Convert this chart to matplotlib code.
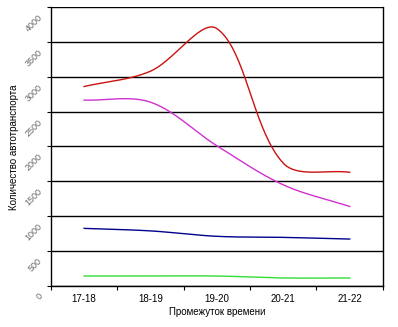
import numpy as np
import matplotlib
matplotlib.use("Agg")
import matplotlib.pyplot as plt
from matplotlib.transforms import ScaledTranslation

plt.rcParams["font.family"] = ["Liberation Sans", "DejaVu Sans"]

periods = ["17-18", "18-19", "19-20", "20-21", "21-22"]
red_vals = [2860, 3080, 3690, 1760, 1630]
magenta_vals = [2665, 2635, 2010, 1450, 1140]
blue_vals = [826, 790, 712, 697, 673]
green_vals = [143, 143, 143, 115, 115]
y_ticks = [0, 500, 1000, 1500, 2000, 2500, 3000, 3500, 4000]

# pixel scale of the plot area, used so the smoothing behaves like Excel's
PX_X = 66.4          # px per category
PX_Y = 279 / 4000    # px per unit


def smooth(xs, ys, n=40, k=1 / 3):
    # Bezier smoothing with control arms scaled by screen-space segment lengths
    P = np.column_stack([np.asarray(xs, float) * PX_X, np.asarray(ys, float) * PX_Y])
    m = len(P)
    L = np.linalg.norm(np.diff(P, axis=0), axis=1)
    ox, oy = [], []
    t = np.linspace(0, 1, n)[:, None]
    for i in range(m - 1):
        if i == 0:
            a = P[i] + k * (P[i + 1] - P[i])
        else:
            a = P[i] + k * (P[i + 1] - P[i - 1]) * L[i] / (L[i - 1] + L[i])
        if i + 1 == m - 1:
            b = P[i + 1] - k * (P[i + 1] - P[i])
        else:
            b = P[i + 1] - k * (P[i + 2] - P[i]) * L[i] / (L[i] + L[i + 1])
        seg = ((1 - t) ** 3 * P[i] + 3 * (1 - t) ** 2 * t * a
               + 3 * (1 - t) * t ** 2 * b + t ** 3 * P[i + 1])
        ox.extend(seg[:, 0] / PX_X); oy.extend(seg[:, 1] / PX_Y)
    return ox, oy


fig = plt.figure(figsize=(3.98, 3.27), dpi=100)
ax = fig.add_axes([0.128, 0.1254, 0.834, 0.8532])

x = np.arange(len(periods))
for vals, col in [(red_vals, "#CC1111"), (magenta_vals, "#D030D0"),
                  (blue_vals, "#00008B"), (green_vals, "#33DD33")]:
    sx, sy = smooth(x, vals)
    ax.plot(sx, sy, color=col, lw=1.0)

ax.set_xlim(-0.5, len(periods) - 0.5)
ax.set_ylim(0, 4000)
ax.set_yticks(y_ticks)
ax.set_yticklabels([])
# slanted labels sit a little below and left of their gridlines, Excel-style
lab_tr = ax.get_yaxis_transform() + ScaledTranslation(-0.10, -0.09, fig.dpi_scale_trans)
for v in y_ticks:
    ax.text(0, v, str(v), transform=lab_tr, rotation=45, fontsize=6.5,
            color="#666666", ha="right", va="center", rotation_mode="anchor",
            clip_on=False)
ax.set_xticks(x)
ax.set_xticklabels(periods, fontsize=7)
ax.set_xticks(np.arange(-0.5, len(periods), 1.0), minor=True)
ax.tick_params(axis="x", which="major", length=0, pad=6)
ax.tick_params(axis="x", which="minor", length=3, width=0.8, direction="out")
ax.tick_params(axis="y", length=3, width=0.8, direction="out")
ax.grid(axis="y", color="black", lw=1.0)
ax.set_axisbelow(True)
ax.spines["top"].set_visible(False)
for s in ["left", "right", "bottom"]:
    ax.spines[s].set_linewidth(1.0)

ax.set_xlabel("Промежуток времени", fontsize=7, labelpad=2)
fig.text(0.035, 0.55, "Количество автотранспорта", rotation=90, fontsize=7,
         ha="center", va="center")

fig.savefig("out.png", dpi=100)
